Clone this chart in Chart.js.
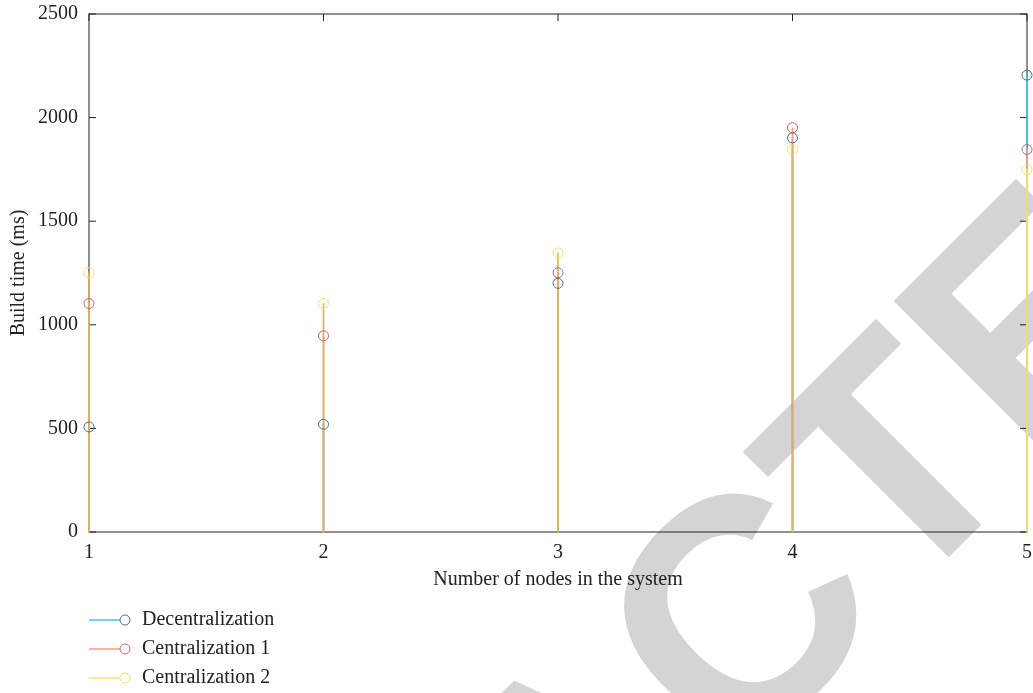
<!DOCTYPE html>
<html>
<head>
<meta charset="utf-8">
<script src="https://cdn.jsdelivr.net/npm/chart.js@4"></script>
<style>
  html, body { margin: 0; padding: 0; background: #fff; }
  #wrap { width: 1033px; height: 693px; }
</style>
</head>
<body>
<div id="wrap"><canvas id="myChart" width="1033" height="693"></canvas></div>
<script>
const nodes = [1, 2, 3, 4, 5];
const decentralization = [507, 520, 1200, 1902, 2205];
const centralization1 = [1103, 947, 1251, 1951, 1846];
const centralization2 = [1251, 1103, 1347, 1846, 1750];
const seriesNames = ["Decentralization", "Centralization 1", "Centralization 2"];
const yTicks = [0, 500, 1000, 1500, 2000, 2500];

const stemColors = ["#4dbeee", "#f2a07e", "#fbe27a"];
const markerColors = ["#45718f", "#b76674", "#f7da6a"];
const serif = "'Liberation Serif', 'DejaVu Serif', serif";

function points(values) {
  return nodes.map((n, i) => ({ x: n, y: values[i] }));
}

// stems of the last series look tan where they sit over the others
function stemColor(idx) {
  return (ctx) => {
    if (idx === 2 && ctx.raw && ctx.raw.x !== nodes[nodes.length - 1]) return "#d6b468";
    return stemColors[idx];
  };
}

const allSeries = [decentralization, centralization1, centralization2];
const datasets = [];
allSeries.forEach((values, i) => {
  datasets.push({
    type: "bar",
    label: seriesNames[i] + " stem",
    data: points(values),
    backgroundColor: stemColor(i),
    barThickness: 1,
    grouped: false,
    clip: false,
    order: 5 - i,
  });
  datasets.push({
    type: "scatter",
    label: seriesNames[i],
    data: points(values),
    showLine: false,
    pointStyle: "circle",
    pointRadius: 5,
    pointBorderWidth: 1,
    pointBackgroundColor: "rgba(0,0,0,0)",
    pointBorderColor: markerColors[i],
    clip: false,
    order: i - 3,
  });
});

const watermark = {
  id: "watermark",
  beforeDraw(chart) {
    const ctx = chart.ctx;
    ctx.save();
    ctx.font = "bold 320px 'Liberation Sans', Arial, sans-serif";
    const pre = ctx.measureText("RETRAC").width;
    const tw = ctx.measureText("T").width;
    ctx.translate(965, 541);
    ctx.rotate(-Math.PI / 4);
    ctx.fillStyle = "#d4d4d4";
    ctx.textBaseline = "alphabetic";
    ctx.fillText("RETRACTED", -pre - tw / 2, 0);
    ctx.restore();
  },
};

// box round the plot with inward ticks, under the stems
const boxAndTicks = {
  id: "boxAndTicks",
  beforeDatasetsDraw(chart) {
    const { ctx, chartArea: a, scales } = chart;
    ctx.save();
    ctx.strokeStyle = "#222";
    ctx.lineWidth = 1;
    ctx.strokeRect(a.left, a.top, a.right - a.left, a.bottom - a.top);
    ctx.beginPath();
    const len = 7;
    yTicks.forEach((v) => {
      const y = scales.y.getPixelForValue(v);
      ctx.moveTo(a.left, y); ctx.lineTo(a.left + len, y);
      ctx.moveTo(a.right, y); ctx.lineTo(a.right - len, y);
    });
    nodes.forEach((n) => {
      const x = scales.x.getPixelForValue(n);
      ctx.moveTo(x, a.top); ctx.lineTo(x, a.top + len);
    });
    ctx.stroke();
    ctx.restore();
  },
};

const legendBox = {
  id: "legendBox",
  afterDraw(chart) {
    const ctx = chart.ctx;
    ctx.save();
    ctx.font = "20px " + serif;
    ctx.textBaseline = "middle";
    seriesNames.forEach((name, i) => {
      const y = 620 + i * 29;
      ctx.strokeStyle = stemColors[i];
      ctx.lineWidth = 1.5;
      ctx.beginPath();
      ctx.moveTo(89, y); ctx.lineTo(120, y);
      ctx.stroke();
      ctx.strokeStyle = markerColors[i];
      ctx.lineWidth = 1;
      ctx.beginPath();
      ctx.arc(125, y, 5, 0, Math.PI * 2);
      ctx.stroke();
      ctx.fillStyle = "#222";
      ctx.fillText(name, 142, y);
    });
    ctx.restore();
  },
};

new Chart(document.getElementById("myChart").getContext("2d"), {
  type: "scatter",
  data: { datasets: datasets },
  plugins: [watermark, boxAndTicks, legendBox],
  options: {
    responsive: false,
    animation: false,
    layout: { padding: { left: 0, top: 14, right: 6, bottom: 101 } },
    plugins: { legend: { display: false }, tooltip: { enabled: false } },
    scales: {
      x: {
        type: "linear",
        min: 1,
        max: 5,
        offset: false,
        grid: { display: false, drawTicks: false },
        border: { display: false },
        ticks: { stepSize: 1, padding: 9, color: "#222", font: { family: serif, size: 20 } },
        title: { display: true, text: "Number of nodes in the system", color: "#222", padding: { top: 0, bottom: 0 }, font: { family: serif, size: 20 } },
        afterFit(scale) {
          scale.height = 60;
          scale.paddingLeft = 0;
          scale.paddingRight = 0;
        },
      },
      y: {
        min: 0,
        max: 2500,
        grid: { display: false, drawTicks: false },
        border: { display: false },
        afterBuildTicks(scale) { scale.ticks = yTicks.map((v) => ({ value: v })); },
        ticks: { padding: 11, color: "#222", font: { family: serif, size: 20 }, callback: (v) => String(v) },
        title: { display: true, text: "Build time (ms)", color: "#222", padding: { top: 7, bottom: 0 }, font: { family: serif, size: 20 } },
        afterFit(scale) {
          scale.width = 89;
          scale.paddingTop = 0;
          scale.paddingBottom = 0;
        },
      },
    },
  },
});
</script>
</body>
</html>
